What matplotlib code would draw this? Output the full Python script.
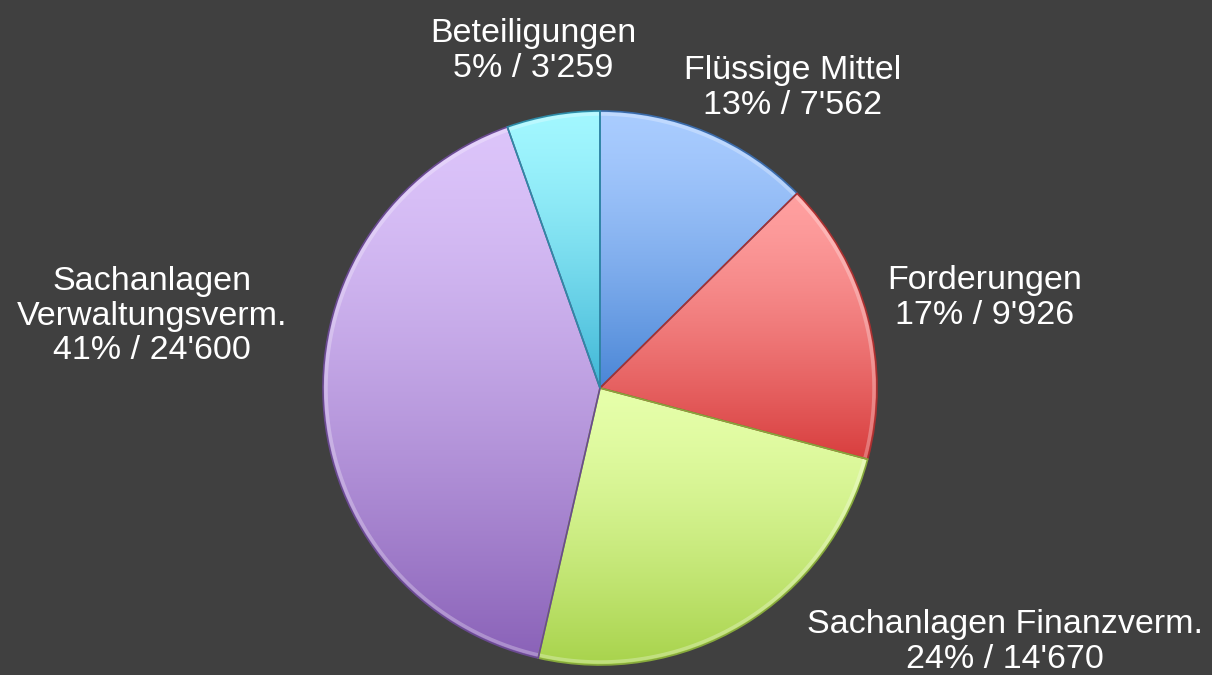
import numpy as np
import matplotlib.pyplot as plt
from matplotlib.colors import to_rgb

labels = ['Flüssige Mittel', 'Forderungen', 'Sachanlagen Finanzverm.',
          'Sachanlagen\nVerwaltungsverm.', 'Beteiligungen']
values = [7562, 9926, 14670, 24600, 3259]
percents = ['13%', '17%', '24%', '41%', '5%']
value_text = ["7'562", "9'926", "14'670", "24'600", "3'259"]

top_colors = ['#a9ccff', '#ffa0a0', '#e6ffaa', '#dcc4fa', '#a2f7ff']
bottom_colors = ['#4a86d6', '#d83e3e', '#a8d34c', '#8a62b8', '#3fb6d6']
edge_colors = ['#3a6aa8', '#a83030', '#86a83c', '#6a4a90', '#2f8aa6']

# label anchor positions (pixel coords, y from top)
label_pos = [(793, 88), (985, 298), (1005, 642), (152, 316), (533, 51)]

W, H = 1212, 675
bg = '#404040'

fig = plt.figure(figsize=(W / 100, H / 100), dpi=100, facecolor=bg)
ax = fig.add_axes([0, 0, 1, 1])
ax.set_facecolor(bg)

cx, cy, r = 600, H - 388, 277
wedges, _ = ax.pie(values, startangle=90, counterclock=False,
                   center=(cx, cy), radius=r, frame=True,
                   wedgeprops=dict(linewidth=1.2))

for i, w in enumerate(wedges):
    w.set_edgecolor(edge_colors[i])
    bb = w.get_path().get_extents()
    c0 = np.array(to_rgb(top_colors[i]))
    c1 = np.array(to_rgb(bottom_colors[i]))
    t = np.linspace(0, 1, 256)[:, None, None] ** 1.4
    grad = c0 * (1 - t) + c1 * t
    im = ax.imshow(grad, extent=(bb.x0, bb.x1, bb.y0, bb.y1), origin='upper',
                   aspect='auto', interpolation='bilinear', zorder=1.5)
    im.set_clip_path(w)
    # edge drawn on top of the gradient
    w.set_zorder(2)
    w.set_facecolor('none')

    # soft highlight along the rim
    ang = np.radians(np.linspace(w.theta1, w.theta2, 100))
    ax.plot(cx + (r - 3) * np.cos(ang), cy + (r - 3) * np.sin(ang),
            color='white', alpha=0.28, lw=2.5, zorder=1.8,
            solid_capstyle='butt')

for i in range(len(values)):
    x, y = label_pos[i]
    ax.text(x, H - y, f'{labels[i]}\n{percents[i]} / {value_text[i]}',
            ha='center', va='center', color='white', fontsize=24.5,
            family=['Liberation Sans', 'DejaVu Sans'], linespacing=1.15)

ax.set_xlim(0, W)
ax.set_ylim(0, H)
ax.set_aspect('equal')
ax.axis('off')

fig.savefig('out.png', dpi=100, facecolor=bg)
